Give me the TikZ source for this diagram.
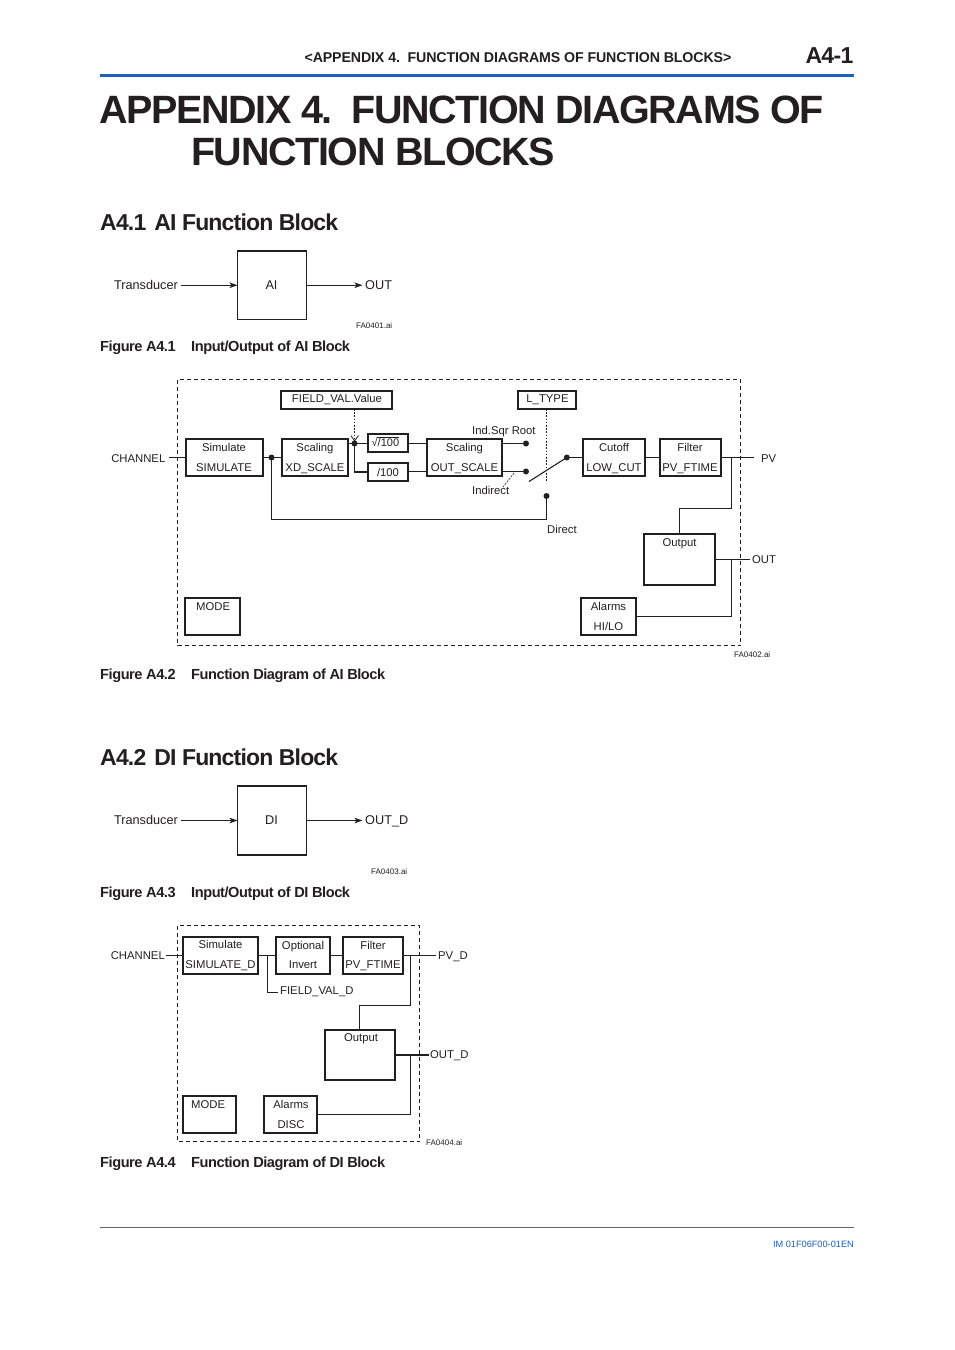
\documentclass[tikz,border=0pt]{standalone}
\usepackage{fontspec}
\setmainfont{Liberation Sans}
\usetikzlibrary{arrows.meta}
\definecolor{ykblue}{HTML}{1F5FBF}
\definecolor{inkc}{HTML}{231F20}
\tikzset{
  x=1pt,y=-1pt,
  every node/.style={text=inkc},
  boxthin/.style={draw=inkc,line width=1.4pt,inner sep=0pt,outer sep=0pt,anchor=center},
  boxthick/.style={draw=inkc,line width=2pt,inner sep=0pt,outer sep=0pt,anchor=center},
  txt/.style={inner sep=0pt,font=\fontsize{11.3}{13}\selectfont},
  biglab/.style={inner sep=0pt,font=\fontsize{12.7}{14}\selectfont},
  tinylab/.style={inner sep=0pt,font=\fontsize{8}{10}\selectfont},
  wire/.style={draw=inkc,line width=1.1pt},
  arrowwire/.style={wire,-{Stealth[length=8pt,width=5.5pt,inset=2pt]}},
  frameline/.style={draw=inkc,line width=1pt,dash pattern=on 4pt off 3pt},
  dotline/.style={draw=inkc,line width=1pt,dash pattern=on 1.6pt off 1.6pt},
  blob/.style={circle,fill=inkc,inner sep=0pt,minimum size=6pt},
  capt/.style={inner sep=0pt,anchor=base west,font=\bfseries\fontsize{14.6}{16}\selectfont\addfontfeature{LetterSpace=-3.1}},
  headg/.style={inner sep=0pt,anchor=base west,font=\bfseries\fontsize{23}{26}\selectfont\addfontfeature{LetterSpace=-3.6}},
  titl/.style={inner sep=0pt,anchor=base west,font=\bfseries\fontsize{39.5}{42}\selectfont\addfontfeature{LetterSpace=-3.5}},
}
\newcommand{\bx}[6]{\node[#1,minimum width=#4pt-#2pt,minimum height=#5pt-#3pt] (#6) at ({(#2+#4)/2},{(#3+#5)/2}) {};}
\begin{document}
\begin{tikzpicture}
\useasboundingbox (0,0) rectangle (954,1350);
\fill[white] (0,0) rectangle (954,1350);
% page furniture
\node[inner sep=0pt,anchor=base east,font=\bfseries\fontsize{14.2}{16}\selectfont\addfontfeature{LetterSpace=-0.9}] (hdr) at (731.5,62) {<APPENDIX 4.\ \ FUNCTION DIAGRAMS OF FUNCTION BLOCKS>};
\node[inner sep=0pt,anchor=base east,font=\bfseries\fontsize{23}{26}\selectfont\addfontfeature{LetterSpace=-3}] (pg) at (853.5,63.5) {A4-1};
\draw[ykblue,line width=3pt] (100,75) -- (854,75);
\node[titl] (t1) at (99,123) {APPENDIX 4.\hspace*{19pt}FUNCTION DIAGRAMS OF};
\node[titl] (t2) at (191,165) {FUNCTION BLOCKS};
\node[headg] (h1) at (100,230) {A4.1\hspace*{8pt}AI Function Block};
\node[headg] (h2) at (100,765.5) {A4.2\hspace*{8pt}DI Function Block};
\node[capt] (c1a) at (100,351) {Figure A4.1}; \node[capt] (c1b) at (191,351) {Input/Output of AI Block};
\node[capt] (c2a) at (100,679) {Figure A4.2}; \node[capt] (c2b) at (191,679) {Function Diagram of AI Block};
\node[capt] (c3a) at (100,897) {Figure A4.3}; \node[capt] (c3b) at (191,897) {Input/Output of DI Block};
\node[capt] (c4a) at (100,1167) {Figure A4.4}; \node[capt] (c4b) at (191,1167) {Function Diagram of DI Block};
\draw[inkc!70,line width=.9pt] (100,1227.5) -- (854,1227.5);
\node[inner sep=0pt,anchor=base east,text=ykblue,font=\fontsize{9.2}{11}\selectfont] (im) at (854,1247.5) {IM 01F06F00-01EN};

% Figure A4.1
\bx{boxthin}{237.5}{251}{306.5}{319.5}{ai}
\node[biglab] (ailab) at (271.5,285) {AI};
\node[biglab,anchor=base east] (tr1) at (178,289.5) {Transducer};
\node[biglab,anchor=base west] (out1) at (365,289.5) {OUT};
\coordinate (tr1e) at (181,285);
\coordinate (out1w) at (362.5,285);
\draw[arrowwire] (tr1e |- ai.west) -- (ai.west);
\draw[arrowwire] (ai.east) -- (out1w |- ai.east);
\node[tinylab,anchor=base west] (fa1) at (356,328) {FA0401.ai};

% Figure A4.2
\draw[frameline] (177.5,379.5) rectangle (740.5,645.5);
\bx{boxthick}{281}{391}{392}{409}{field}
\node[txt] (fieldt) at (337,400) {FIELD\_VAL.Value};
\bx{boxthick}{518}{391}{576}{409}{ltype}
\node[txt] (ltypet) at (547.5,400) {L\_TYPE};
\bx{boxthin}{186}{439}{263}{476}{sim}
\bx{boxthin}{282}{439}{348}{476}{scal}
\bx{boxthick}{368}{434}{408}{452}{sq}
\bx{boxthick}{368}{463}{408}{481}{lin}
\bx{boxthin}{427}{439}{502}{476}{osc}
\bx{boxthin}{583}{439}{645}{476}{cut}
\bx{boxthin}{660}{439}{721}{476}{fil}
\bx{boxthin}{644}{534}{715}{585}{outp}
\bx{boxthin}{185}{598}{240}{635}{mode}
\bx{boxthin}{581}{598}{636}{635}{alarm}
\node[txt,anchor=base] (a1) at (224,451) {Simulate}; \node[txt,anchor=base] (a2) at (224,471) {SIMULATE};
\node[txt,anchor=base] (b1) at (315,451) {Scaling}; \node[txt,anchor=base] (b2) at (315,471) {XD\_SCALE};
\node[txt,anchor=base] (c1) at (464.5,451) {Scaling}; \node[txt,anchor=base] (c2) at (464.5,471) {OUT\_SCALE};
\node[txt,anchor=base] (d1) at (614,451) {Cutoff}; \node[txt,anchor=base] (d2) at (614,471) {LOW\_CUT};
\node[txt,anchor=base] (e1) at (690,451) {Filter}; \node[txt,anchor=base] (e2) at (690,471) {PV\_FTIME};
\node[txt,anchor=base] (f1) at (608.5,610) {Alarms}; \node[txt,anchor=base] (f2) at (608.5,630) {HI/LO};
\node[txt,anchor=base] (g1) at (679.5,546) {Output};
\node[txt,anchor=base west] (g2) at (196,610) {MODE};
\node[txt,anchor=base west,font=\fontsize{11}{13}\selectfont] (sqt) at (371.5,446) {√/100};
\coordinate (sqa) at (377,437); \coordinate (sqb) at (399,437);
\draw[inkc,line width=.7pt] (sqa) -- (sqb);
\node[txt] (lint) at (388,472.5) {/100};
\node[txt,anchor=base east] (ch) at (165.5,462) {CHANNEL};
\node[txt,anchor=base west] (pv) at (761,462) {PV};
\node[txt,anchor=base west] (ou) at (752,563) {OUT};
\node[txt,anchor=base west] (isr) at (472,434) {Ind.Sqr Root};
\node[txt,anchor=base west] (ind) at (472,494) {Indirect};
\node[txt,anchor=base west] (dir) at (547,533) {Direct};
\node[tinylab,anchor=base west] (fa2) at (734,657) {FA0402.ai};
\coordinate (chr) at (169,457.5);
\node[blob] (j1) at (271.5,457.5) {};
\node[blob] (j2) at (354.5,443.5) {};
\node[blob] (p1) at (526,443.5) {};
\node[blob] (p2) at (526,471.5) {};
\node[blob] (p3) at (546.5,496) {};
\node[blob] (p4) at (566.8,457.5) {};
\coordinate (sw) at (529,481.5);
\coordinate (pvl) at (754,457.5);
\coordinate (outl) at (750,559);
\coordinate (b1c) at (731.5,457.5);
\draw[wire] (chr) -- (sim.west);
\draw[wire] (sim.east) -- (scal.west);
\draw[wire] (j1.center) |- (400,519.5) -| (p3.center);
\draw[wire] (scal.east |- j2) -- (sq.west |- j2);
\draw[wire] (j2.center) |- (lin.west);
\draw[wire] (sq.east |- p1) -- (osc.west |- p1);
\draw[wire] (lin.east |- p2) -- (osc.west |- p2);
\draw[wire] (osc.east |- p1) -- (p1.center);
\draw[wire] (osc.east |- p2) -- (p2.center);
\draw[wire] (sw) -- (p4.center);
\draw[wire] (p4.center) -- (cut.west |- p4);
\draw[wire] (cut.east) -- (fil.west);
\draw[wire] (fil.east) -- (pvl);
\draw[wire] (b1c) |- (679.5,508.5) -- (679.5,534);
\draw[wire] (outp.east) -- (outl |- outp.east);
\draw[wire] (b1c |- outp.east) |- (alarm.east);
\draw[dotline] (field.south -| j2) -- (354.5,441);
\draw[wire,line width=.8pt] (351,435.5) -- (354.5,441) -- (358.5,435.5);
\draw[dotline] (ltype.south -| p3) -- (546.5,482);
\coordinate (la) at (514,473); \coordinate (lb) at (503,487);
\draw[inkc,line width=.6pt,dash pattern=on 2pt off 1.2pt] (la) -- (lb);

% Figure A4.3
\bx{boxthin}{237.5}{786}{306.5}{855}{di}
\node[biglab] (dilab) at (271.5,820) {DI};
\node[biglab,anchor=base east] (tr2) at (178,824.5) {Transducer};
\node[biglab,anchor=base west] (out2) at (365,824.5) {OUT\_D};
\coordinate (tr2e) at (181,820.5);
\coordinate (out2w) at (362.5,820.5);
\draw[arrowwire] (tr2e |- di.west) -- (di.west);
\draw[arrowwire] (di.east) -- (out2w |- di.east);
\node[tinylab,anchor=base west] (fa3) at (371,874) {FA0403.ai};

% Figure A4.4
\draw[frameline] (177.5,925.5) rectangle (419.5,1141.5);
\bx{boxthick}{183}{937}{258}{974}{dsim}
\bx{boxthick}{276}{937}{330}{974}{dinv}
\bx{boxthick}{343}{937}{403}{974}{dfil}
\bx{boxthick}{325}{1030}{395}{1080}{dout}
\bx{boxthick}{183}{1096}{236}{1133}{dmode}
\bx{boxthick}{264}{1096}{317}{1133}{dal}
\node[txt,anchor=base] (h1a) at (220.5,948) {Simulate}; \node[txt,anchor=base] (h1b) at (220.5,968) {SIMULATE\_D};
\node[txt,anchor=base] (h2a) at (303,949) {Optional}; \node[txt,anchor=base] (h2b) at (303,968) {Invert};
\node[txt,anchor=base] (h3a) at (373,949) {Filter}; \node[txt,anchor=base] (h3b) at (373,968) {PV\_FTIME};
\node[txt,anchor=base] (h4a) at (361,1041) {Output};
\node[txt,anchor=base west] (h5a) at (191,1108) {MODE};
\node[txt,anchor=base] (h6a) at (291,1108) {Alarms}; \node[txt,anchor=base] (h6b) at (291,1128) {DISC};
\node[txt,anchor=base east] (dch) at (165,959) {CHANNEL};
\node[txt,anchor=base west] (dpv) at (438,959) {PV\_D};
\node[txt,anchor=base west] (dou) at (430,1058) {OUT\_D};
\node[txt,anchor=base west] (dfv) at (280,994) {FIELD\_VAL\_D};
\node[tinylab,anchor=base west] (fa4) at (426,1145) {FA0404.ai};
\coordinate (dchr) at (166,955.5);
\coordinate (dpvl) at (436,955.5);
\coordinate (doul) at (429,1054);
\coordinate (d1) at (267.5,955.5);
\coordinate (dfe) at (278,992.5);
\coordinate (d2) at (410.5,955.5);
\draw[wire] (dchr) -- (dsim.west);
\draw[wire] (dsim.east) -- (dinv.west);
\draw[wire] (dinv.east) -- (dfil.west);
\draw[wire] (dfil.east) -- (dpvl);
\draw[wire] (d1) |- (dfe);
\draw[wire] (d2) |- (359.5,1005.5) -- (359.5,1030);
\draw[wire] (dout.east) -- (doul |- dout.east);
\draw[wire] (d2 |- dout.east) |- (dal.east);
\end{tikzpicture}
\end{document}
